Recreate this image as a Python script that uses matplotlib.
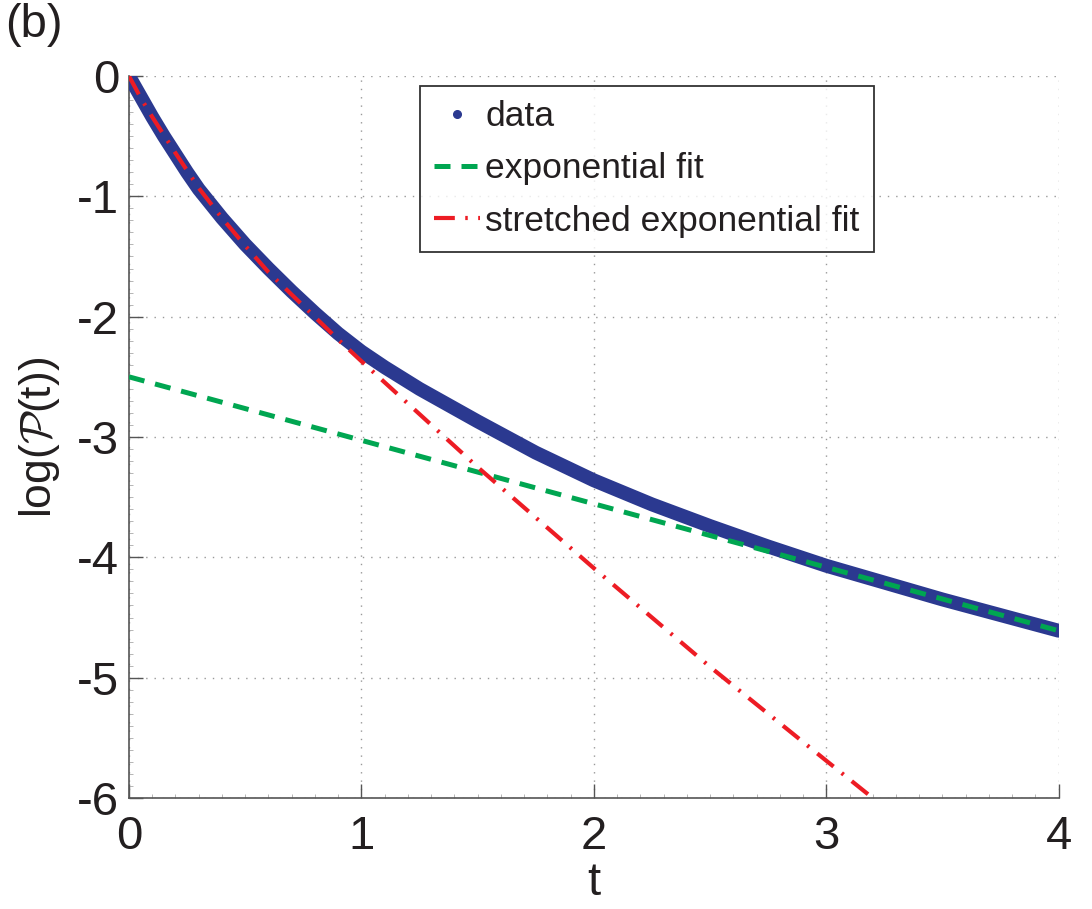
import numpy as np
import matplotlib.pyplot as plt
from matplotlib.lines import Line2D
from matplotlib.ticker import MultipleLocator

# values
t_data = [0, 0.05, 0.1, 0.15, 0.2, 0.25, 0.3, 0.4, 0.5, 0.6, 0.7, 0.8, 0.9, 1.0,
          1.1, 1.25, 1.5, 1.75, 2.0, 2.25, 2.5, 2.75, 3.0, 3.25, 3.5, 3.75, 4.0]
logp_data = [0, -0.17, -0.34, -0.50, -0.65, -0.80, -0.94, -1.18, -1.40, -1.60,
             -1.79, -1.97, -2.14, -2.29, -2.42, -2.60, -2.87, -3.13, -3.36,
             -3.56, -3.74, -3.91, -4.07, -4.21, -4.35, -4.48, -4.61]

t_exp = [0, 4]
logp_exp = [-2.50, -4.61]

t_str = [0, 0.05, 0.1, 0.2, 0.3, 0.4, 0.5, 0.6, 0.75, 0.9, 1.0, 1.25, 1.5,
         1.75, 2.0, 2.5, 3.0, 3.2]
logp_str = [0, -0.18, -0.34, -0.64, -0.93, -1.18, -1.41, -1.63, -1.91, -2.19,
            -2.37, -2.81, -3.25, -3.67, -4.09, -4.91, -5.69, -6.00]

labels = ['data', 'exponential fit', 'stretched exponential fit']

blue = '#2B3990'
green = '#00A651'
red = '#ED1C24'
txt = '#231F20'

plt.rcParams['font.family'] = ['Liberation Sans', 'DejaVu Sans']
plt.rcParams['mathtext.fontset'] = 'cm'
plt.rcParams['axes.unicode_minus'] = False

fig = plt.figure(figsize=(10.92, 9.09), dpi=100)
ax = fig.add_axes([0.1181, 0.1221, 0.8514, 0.7943])

ax.plot(t_data, logp_data, '-', color=blue, lw=10, solid_capstyle='round',
        solid_joinstyle='round', zorder=3)
ax.plot(t_exp, logp_exp, color=green, lw=3.6, dashes=(3.2, 2.2), zorder=4)
ax.plot(t_str, logp_str, color=red, lw=3.0, dashes=(5, 2.5, 0.6, 2.5), zorder=4)

ax.set_xlim(0, 4)
ax.set_ylim(-6, 0)
ax.xaxis.set_major_locator(MultipleLocator(1))
ax.yaxis.set_major_locator(MultipleLocator(1))
ax.xaxis.set_minor_locator(MultipleLocator(0.1))
ax.yaxis.set_minor_locator(MultipleLocator(0.1))
ax.tick_params(which='both', direction='in', colors='#555555', labelcolor=txt,
               labelsize=34)
ax.tick_params(which='major', length=10, width=1.0)
ax.tick_params(which='minor', length=3, width=0.5, colors='#999999')
ax.tick_params(axis='x', pad=12)
ax.tick_params(axis='y', pad=7)

for s in ['top', 'right']:
    ax.spines[s].set_visible(False)
for s in ['left', 'bottom']:
    ax.spines[s].set_color('#555555')
    ax.spines[s].set_linewidth(1.2)

ax.grid(True, which='major', color='#999999', linestyle=(0, (1, 5)), lw=1.0)
ax.set_axisbelow(True)

ax.set_xlabel('t', fontsize=34, color=txt, labelpad=2)
ax.set_ylabel(r'log($\mathcal{P}$(t))', fontsize=32, color=txt)
ax.yaxis.set_label_coords(-0.072, 0.5)

handles = [
    Line2D([], [], ls='none', marker='o', markersize=5.5, color=blue),
    Line2D([], [], color=green, lw=3.6, dashes=(3.2, 2.2)),
    Line2D([], [], color=red, lw=3.0, dashes=(5, 2.5, 0.6, 2.5)),
]
leg = ax.legend(handles, labels, loc='upper left', bbox_to_anchor=(0.313, 0.986),
                borderaxespad=0, frameon=True, fancybox=False,
                prop={'size': 25.5},
                handlelength=1.3, handletextpad=0.15, labelspacing=0.54,
                borderpad=0.4)
leg.get_frame().set_edgecolor('black')
leg.get_frame().set_linewidth(1.3)
for tx in leg.get_texts():
    tx.set_color(txt)

fig.text(0.005, 0.997, '(b)', fontsize=34, color=txt, va='top', ha='left')

fig.savefig('out.png', dpi=100)
